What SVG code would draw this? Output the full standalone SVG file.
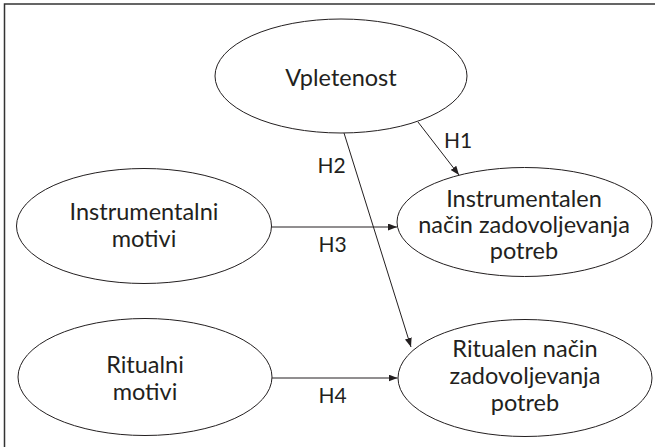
<svg xmlns="http://www.w3.org/2000/svg" width="655" height="447" viewBox="0 0 655 447">
  <style>
    .node ellipse { fill: #ffffff; stroke: #231f20; stroke-width: 1; }
    .node text { font-family: Lato, "Open Sans", sans-serif; font-size: 23.5px; fill: #231f20; text-anchor: middle; }
    .edges line { stroke: #231f20; stroke-width: 1; }
    .lbl { font-family: Lato, "Open Sans", sans-serif; font-size: 21px; fill: #231f20; text-anchor: middle; }
    .frame { stroke: #333333; stroke-width: 1.5; fill: none; }
  </style>
  <defs>
    <marker id="arrow" markerUnits="userSpaceOnUse" markerWidth="10" markerHeight="8" refX="9" refY="3.5" orient="auto">
      <path d="M0,0 L9,3.5 L0,7 z" fill="#231f20"/>
    </marker>
  </defs>
  <rect width="655" height="447" fill="#ffffff"/>
  <path class="frame" d="M4.5,447 L4.5,4 L655,4"/>

  <g id="vpletenost" class="node">
    <ellipse cx="341" cy="76" rx="126" ry="57"/>
    <text x="341" y="86">Vpletenost</text>
  </g>
  <g id="instrumentalni-motivi" class="node">
    <ellipse cx="144" cy="226" rx="127.5" ry="57.5"/>
    <text x="144" y="220">Instrumentalni</text>
    <text x="144" y="247">motivi</text>
  </g>
  <g id="ritualni-motivi" class="node">
    <ellipse cx="145" cy="377" rx="127" ry="58.5"/>
    <text x="145" y="373">Ritualni</text>
    <text x="145" y="400">motivi</text>
  </g>
  <g id="instrumentalen-nacin" class="node">
    <ellipse cx="524.5" cy="222" rx="127.5" ry="54.5"/>
    <text x="524" y="207">Instrumentalen</text>
    <text x="524" y="233">način zadovoljevanja</text>
    <text x="524" y="259">potreb</text>
  </g>
  <g id="ritualen-nacin" class="node">
    <ellipse cx="525" cy="378" rx="127" ry="58.5"/>
    <text x="525" y="357">Ritualen način</text>
    <text x="525" y="384">zadovoljevanja</text>
    <text x="525" y="411">potreb</text>
  </g>

  <g id="connectors" class="edges">
    <line x1="418" y1="122" x2="459" y2="175" marker-end="url(#arrow)"/>
    <line x1="344" y1="133" x2="411" y2="347" marker-end="url(#arrow)"/>
    <line x1="271.5" y1="227" x2="397" y2="227" marker-end="url(#arrow)"/>
    <line x1="272" y1="378" x2="397.5" y2="378" marker-end="url(#arrow)"/>
    <text class="lbl" x="458" y="148">H1</text>
    <text class="lbl" x="331.5" y="173">H2</text>
    <text class="lbl" x="332.5" y="252">H3</text>
    <text class="lbl" x="332.5" y="403">H4</text>
  </g>
</svg>
